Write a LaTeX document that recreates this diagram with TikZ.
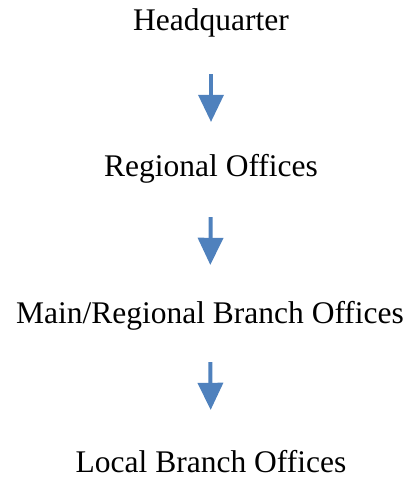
\documentclass[tikz,border=0pt]{standalone}
\usepackage{fontspec}
\setmainfont{Liberation Serif}
\usetikzlibrary{arrows.meta}
\definecolor{flowblue}{RGB}{79,129,189}
\begin{document}
\begin{tikzpicture}[x=1pt,y=1pt,
  level/.style={inner sep=0pt, text height=22pt, text depth=7pt, anchor=base,
    font=\fontsize{31.5}{36}\selectfont},
  flow/.style={draw=flowblue, line width=4pt,
    -{Triangle[length=27pt,width=26pt,line width=0pt,fill=flowblue]}}]
\useasboundingbox (0,0) rectangle (409,-478);
\node[level] (hq)  at (211,-31)  {Headquarter};
\node[level] (ro)  at (211,-177) {Regional Offices};
\node[level] (mro) at (210,-323) {Main/Regional Branch Offices};
\node[level] (lbo) at (211,-472) {Local Branch Offices};
\draw[flow, shorten <=36pt, shorten >=33pt] (hq.south) -- (ro.north);
\draw[flow, shorten <=33pt, shorten >=36pt] (ro.south) -- (mro.north);
\draw[flow, shorten <=32pt, shorten >=40pt] (mro.south) -- (lbo.north);
\end{tikzpicture}
\end{document}
